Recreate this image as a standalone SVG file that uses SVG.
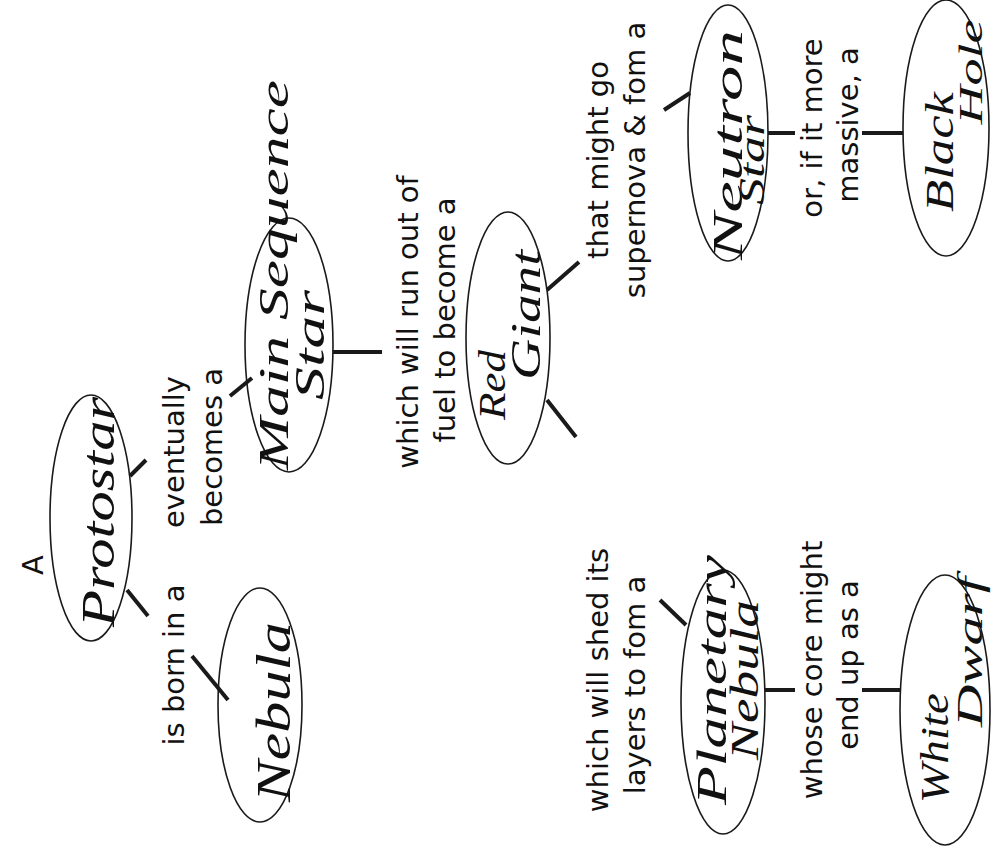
<svg xmlns="http://www.w3.org/2000/svg" width="994" height="867" viewBox="0 0 994 867">
<style>
.bg{fill:#fff}
.node ellipse{fill:none;stroke:#1a1a1a;stroke-width:1.6}
.hw{font-family:"Liberation Serif","DejaVu Serif",serif;font-style:italic;fill:#111;text-anchor:middle}
.lbl{font-family:"DejaVu Sans","Liberation Sans",sans-serif;font-size:29px;fill:#111;text-anchor:middle}
.conn line{stroke:#1a1a1a;stroke-width:4;stroke-linecap:butt}
</style>
<rect class="bg" x="0" y="0" width="994" height="867"/>
<g id="connectors" class="conn">
<line x1="127" y1="590" x2="148" y2="616"/>
<line x1="192" y1="656" x2="228" y2="700"/>
<line x1="130" y1="476" x2="146" y2="460"/>
<line x1="230" y1="396" x2="252" y2="378"/>
<line x1="333" y1="352" x2="382" y2="352"/>
<line x1="547" y1="290" x2="579" y2="262"/>
<line x1="547" y1="400" x2="576" y2="437"/>
<line x1="664" y1="110" x2="690" y2="93"/>
<line x1="660" y1="600" x2="686" y2="625"/>
<line x1="768" y1="133" x2="795" y2="133"/>
<line x1="862" y1="133" x2="903" y2="133"/>
<line x1="765" y1="690" x2="795" y2="690"/>
<line x1="862" y1="690" x2="900" y2="690"/>
</g>
<g id="labels">
<text class="lbl" transform="translate(43,565) rotate(-90)">A</text>
<text class="lbl" transform="translate(184,665) rotate(-90)">is born in a</text>
<text class="lbl" transform="translate(184,452) rotate(-90)">eventually</text>
<text class="lbl" transform="translate(222,447) rotate(-90)">becomes a</text>
<text class="lbl" transform="translate(418,322) rotate(-90)">which will run out of</text>
<text class="lbl" transform="translate(455,320) rotate(-90)">fuel to become a</text>
<text class="lbl" transform="translate(608,680) rotate(-90)">which will shed its</text>
<text class="lbl" transform="translate(645,685) rotate(-90)">layers to fom a</text>
<text class="lbl" transform="translate(608,160) rotate(-90)">that might go</text>
<text class="lbl" transform="translate(645,160) rotate(-90)">supernova &amp; fom a</text>
<text class="lbl" transform="translate(822,670) rotate(-90)">whose core might</text>
<text class="lbl" transform="translate(858,665) rotate(-90)">end up as a</text>
<text class="lbl" transform="translate(822,128) rotate(-90)">or, if it more</text>
<text class="lbl" transform="translate(858,125) rotate(-90)">massive, a</text>
</g>
<g id="protostar" class="node">
<ellipse cx="91" cy="518" rx="41" ry="123"/>
<text class="hw" font-size="46" textLength="230" lengthAdjust="spacingAndGlyphs" transform="translate(114,512) rotate(-90)">Protostar</text>
</g>
<g id="nebula" class="node">
<ellipse cx="260" cy="705" rx="42" ry="117"/>
<text class="hw" font-size="48" textLength="180" lengthAdjust="spacingAndGlyphs" transform="translate(290,712) rotate(-90)">Nebula</text>
</g>
<g id="main-sequence-star" class="node">
<ellipse cx="289" cy="345" rx="44" ry="127"/>
<text class="hw" font-size="42" textLength="390" lengthAdjust="spacingAndGlyphs" transform="translate(288,275) rotate(-90)">Main Sequence</text>
<text class="hw" font-size="42" textLength="110" lengthAdjust="spacingAndGlyphs" transform="translate(324,345) rotate(-90)">Star</text>
</g>
<g id="red-giant" class="node">
<ellipse cx="508" cy="338" rx="42" ry="126"/>
<text class="hw" font-size="38" textLength="70" lengthAdjust="spacingAndGlyphs" transform="translate(505,385) rotate(-90)">Red</text>
<text class="hw" font-size="42" textLength="130" lengthAdjust="spacingAndGlyphs" transform="translate(540,315) rotate(-90)">Giant</text>
</g>
<g id="neutron-star" class="node">
<ellipse cx="728" cy="133" rx="40" ry="128"/>
<text class="hw" font-size="42" textLength="230" lengthAdjust="spacingAndGlyphs" transform="translate(742,145) rotate(-90)">Neutron</text>
<text class="hw" font-size="36" textLength="90" lengthAdjust="spacingAndGlyphs" transform="translate(764,160) rotate(-90)">Star</text>
</g>
<g id="black-hole" class="node">
<ellipse cx="946" cy="128" rx="43" ry="128"/>
<text class="hw" font-size="40" textLength="120" lengthAdjust="spacingAndGlyphs" transform="translate(953,152) rotate(-90)">Black</text>
<text class="hw" font-size="34" textLength="105" lengthAdjust="spacingAndGlyphs" transform="translate(982,72) rotate(-90)">Hole</text>
</g>
<g id="planetary-nebula" class="node">
<ellipse cx="723" cy="702" rx="42" ry="132"/>
<text class="hw" font-size="42" textLength="250" lengthAdjust="spacingAndGlyphs" transform="translate(726,680) rotate(-90)">Planetary</text>
<text class="hw" font-size="40" textLength="160" lengthAdjust="spacingAndGlyphs" transform="translate(758,680) rotate(-90)">Nebula</text>
</g>
<g id="white-dwarf" class="node">
<ellipse cx="945" cy="710" rx="45" ry="135"/>
<text class="hw" font-size="40" textLength="110" lengthAdjust="spacingAndGlyphs" transform="translate(948,748) rotate(-90)">White</text>
<text class="hw" font-size="36" textLength="150" lengthAdjust="spacingAndGlyphs" transform="translate(982,652) rotate(-90)">Dwarf</text>
</g>
</svg>
